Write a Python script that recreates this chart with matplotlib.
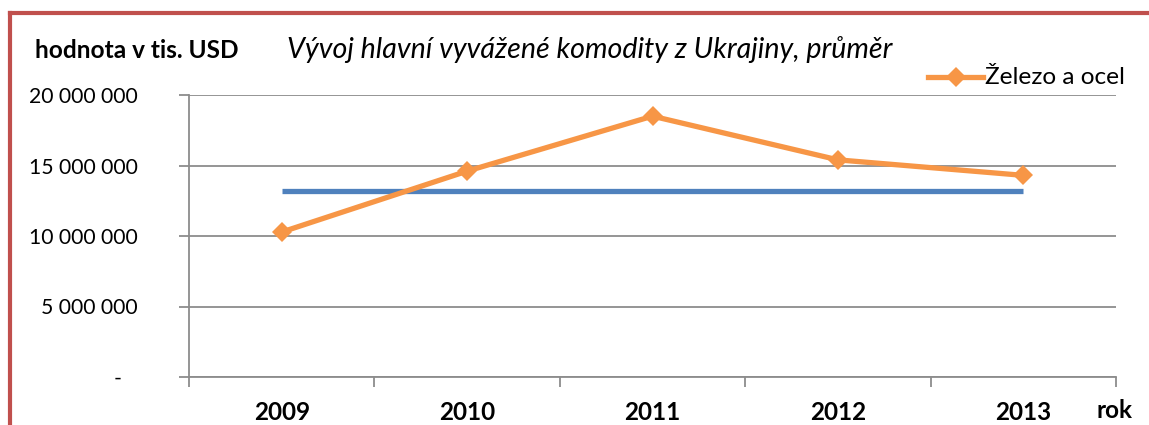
import matplotlib
matplotlib.use("Agg")
import matplotlib.pyplot as plt
from matplotlib.lines import Line2D

years = ["2009", "2010", "2011", "2012", "2013"]
zelezo = [10_280_000, 14_600_000, 18_500_000, 15_400_000, 14_300_000]
prumer = [13_200_000] * len(years)
yticks = [0, 5_000_000, 10_000_000, 15_000_000, 20_000_000]
ytick_labels = ["-   ", "5 000 000", "10 000 000", "15 000 000", "20 000 000"]

plt.rcParams['font.family'] = ['Lato', 'DejaVu Sans']

W, H = 1149, 425
fig = plt.figure(figsize=(W / 100, H / 100), dpi=100)

# plot area in pixel coords
x0, x1 = 189, 1116
y_top, y_bot = 95, 377
ax = fig.add_axes([x0 / W, 1 - y_bot / H, (x1 - x0) / W, (y_bot - y_top) / H])

orange = "#F79646"
blue = "#4F81BD"
grid_c = "#8C8C8C"

xs = list(range(len(years)))
ax.plot(xs, prumer, color=blue, lw=3.8, solid_capstyle="butt", zorder=3)
ax.plot(xs, zelezo, color=orange, lw=3.8, marker="D", markersize=10,
        markeredgewidth=0, zorder=4)

ax.set_xlim(-0.5, len(years) - 0.5)
ax.set_ylim(0, 20_000_000)
ax.set_yticks(yticks)
ax.set_yticklabels(ytick_labels, fontsize=15.2)
ax.yaxis.grid(True, color=grid_c, lw=1.3)
ax.set_axisbelow(True)

ax.set_xticks([x - 0.5 for x in range(len(years) + 1)])
ax.set_xticklabels([])
ax.set_xticks(xs, minor=True)
ax.set_xticklabels(years, minor=True, fontsize=17.5, fontweight="bold")
ax.tick_params(axis="x", which="minor", length=0, pad=17)
ax.tick_params(axis="x", which="major", length=7, width=1.3, color=grid_c)
ax.tick_params(axis="y", length=7, width=1.3, color=grid_c, pad=30)
for lab in ax.get_yticklabels():
    lab.set_horizontalalignment("right")

for s in ["top", "right"]:
    ax.spines[s].set_visible(False)
for s in ["left", "bottom"]:
    ax.spines[s].set_color(grid_c)
    ax.spines[s].set_linewidth(1.3)

# texts
fig.text(35 / W, 1 - 50 / H, "hodnota v tis. USD", fontsize=17.6, fontweight="bold",
         va="center", ha="left")
fig.text(287 / W, 1 - 50 / H, "Vývoj hlavní vyvážené komodity z Ukrajiny, průměr",
         fontsize=20.6, style="italic", va="center", ha="left")
fig.text(1096 / W, 1 - 410 / H, "rok", fontsize=17.5, fontweight="bold",
         va="center", ha="left")

# legend
ly = 1 - 77 / H
fig.add_artist(Line2D([928 / W, 983 / W], [ly, ly], color=orange, lw=3.8,
                      transform=fig.transFigure))
fig.add_artist(Line2D([955.5 / W], [ly], color=orange, marker="D", markersize=10,
                      markeredgewidth=0, transform=fig.transFigure))
fig.text(985 / W, ly, "Železo a ocel", fontsize=17.6, va="center", ha="left")

# red border (left and top)
fig.add_artist(Line2D([10 / W, 10 / W], [0, 1 - 13 / H], color="#C0504D", lw=3,
                      transform=fig.transFigure, solid_capstyle="projecting"))
fig.add_artist(Line2D([10 / W, 1], [1 - 13 / H, 1 - 13 / H], color="#C0504D", lw=3,
                      transform=fig.transFigure, solid_capstyle="projecting"))

fig.savefig("out.png", dpi=100)
